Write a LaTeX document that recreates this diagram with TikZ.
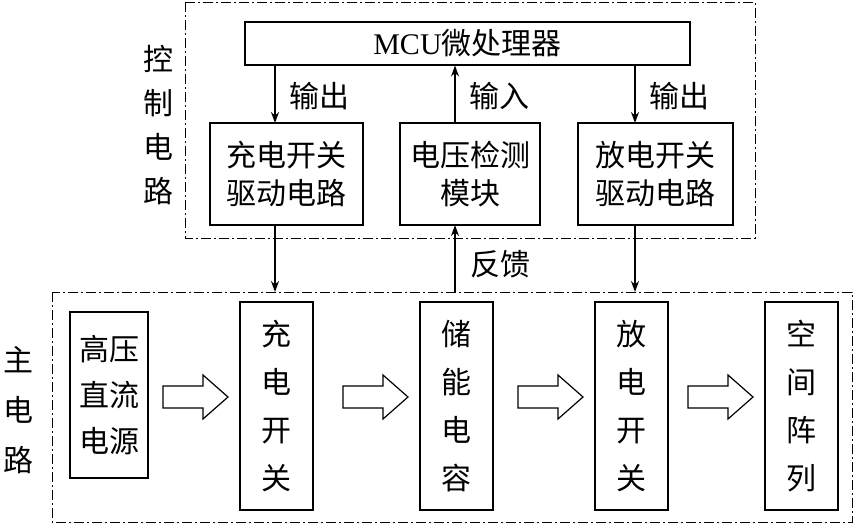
\documentclass[tikz,border=0pt]{standalone}
\usepackage{fontspec}
\setmainfont{Liberation Serif}
\newfontfamily\cjk{Noto Sans CJK SC}
\usetikzlibrary{arrows.meta}
\begin{document}
\begin{tikzpicture}[x=1pt,y=-1pt,
  box/.style={draw,line width=1.2pt,inner sep=0pt,font=\fontsize{30}{38}\selectfont\cjk},
  dd/.style={draw,line width=1pt,dash pattern=on 10pt off 3pt on 2pt off 3pt},
  arr/.style={-{Stealth[length=11pt,width=8pt]},line width=1.3pt},
  lab/.style={font=\fontsize{30}{38}\selectfont\cjk,inner sep=0pt},
  barrow/.style={draw,line width=1.2pt,fill=white}]
\useasboundingbox (0,0) rectangle (855,525);
\draw[dd] (185,2) rectangle (755,238);
\draw[dd] (52,292) rectangle (852,522);
\node[box,minimum width=445,minimum height=43] (mcu) at (467.5,43.5) {\fontspec{Liberation Serif}MCU{\cjk 微处理器}};
\node[box,minimum width=153,minimum height=102,align=center] (cd) at (286.5,174) {充电开关\\驱动电路};
\node[box,minimum width=140,minimum height=102,align=center] (vd) at (470,174) {电压检测\\模块};
\node[box,minimum width=155,minimum height=102,align=center] (dd) at (655.5,174) {放电开关\\驱动电路};
\coordinate (m1) at (275,65.5); \coordinate (m2) at (455,65.5); \coordinate (m3) at (635,65.5);
\coordinate (c1) at (275,123); \coordinate (c2) at (455,123); \coordinate (c3) at (635,123);
\draw[arr] (m1) -- (c1);
\draw[arr] (c2) -- (m2);
\draw[arr] (m3) -- (c3);
\node[lab,anchor=west] (o1) at (289,96) {输出};
\node[lab,anchor=west] (i1) at (469,96) {输入};
\node[lab,anchor=west] (o2) at (649,96) {输出};
\coordinate (b1) at (275,225); \coordinate (b2) at (455,225); \coordinate (b3) at (635,225);
\coordinate (t1) at (275,292); \coordinate (t2) at (455,292); \coordinate (t3) at (635,292);
\draw[arr] (b1) -- (t1);
\draw[arr] (t2) -- (b2);
\draw[arr] (b3) -- (t3);
\node[lab,anchor=west] (fk) at (470,264) {反馈};
\node[lab,align=center,font=\fontsize{30}{44}\selectfont\cjk] (ks) at (158,125) {控\\制\\电\\路};
\node[lab,align=center,font=\fontsize{30}{50}\selectfont\cjk] (zd) at (18,410) {主\\电\\路};
\node[box,minimum width=78,minimum height=166,align=center,font=\fontsize{30}{46}\selectfont\cjk] (s1) at (109,395) {高压\\直流\\电源};
\tikzset{tall/.style={box,minimum width=73,minimum height=208,align=center,font=\fontsize{30}{48}\selectfont\cjk}}
\node[tall] (s2) at (276.5,406) {充\\电\\开\\关};
\node[tall] (s3) at (456.5,406) {储\\能\\电\\容};
\node[tall] (s4) at (631.5,406) {放\\电\\开\\关};
\node[tall] (s5) at (801.5,406) {空\\间\\阵\\列};
\foreach \x in {163,343,518,688}{
  \draw[barrow] (\x,386) -- (\x+40,386) -- (\x+40,375) -- (\x+65,397) -- (\x+40,419) -- (\x+40,408) -- (\x,408) -- cycle;
}
\end{tikzpicture}
\end{document}
